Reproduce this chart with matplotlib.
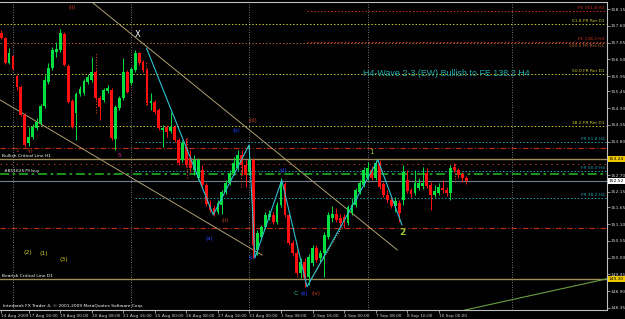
import matplotlib.pyplot as plt

# H4 candles, bar index 0 = 14 Aug 2009 12:00
opens = [157.36, 157.20, 156.38, 156.60, 155.95, 155.59, 154.67, 153.76, 153.95, 154.25,
         154.41, 154.97, 155.76, 156.22, 156.74, 156.81, 157.33, 156.28, 155.13, 154.74,
         155.36, 155.40, 155.76, 155.82, 156.08, 155.23, 155.17, 155.46, 155.50, 153.89,
         154.90, 155.23, 156.08, 155.72, 156.15, 156.71, 156.41, 156.15, 155.07, 155.10,
         154.84, 154.18, 154.28, 154.15, 154.28, 153.85, 153.20, 153.62, 153.26, 152.87,
         152.61, 152.87, 152.38, 151.76, 151.63, 151.49, 151.72, 152.15, 152.44, 152.77,
         152.94, 153.36, 153.03, 152.81, 153.20, 150.25, 150.67, 151.00, 151.33, 151.40,
         151.17, 151.72, 152.41, 151.40, 150.48, 150.15, 149.49, 149.85, 149.36, 149.82,
         150.31, 149.99, 150.15, 150.67, 151.30, 151.43, 151.30, 151.33, 151.13, 151.46,
         151.72, 152.15, 152.38, 152.61, 152.87, 152.61, 153.10, 152.41, 152.05, 151.89,
         151.69, 151.79, 151.89, 152.54, 152.22, 152.12, 152.28, 152.36, 152.77, 152.38,
         152.05, 152.12, 152.28, 152.22, 152.12, 152.97, 152.87, 152.74, 152.61]
highs = [157.46, 157.23, 156.87, 156.64, 155.99, 155.66, 154.74, 154.28, 154.38, 154.58,
         155.04, 155.99, 156.38, 156.90, 157.07, 157.49, 157.40, 156.35, 155.20, 155.43,
         155.63, 155.85, 156.02, 156.58, 156.15, 155.30, 155.56, 155.66, 155.56, 155.00,
         155.30, 156.54, 156.15, 156.25, 156.81, 156.74, 156.48, 156.22, 155.40, 155.17,
         154.90, 154.35, 154.35, 154.77, 154.35, 153.92, 153.85, 153.92, 153.53, 153.36,
         153.26, 153.03, 152.44, 151.89, 151.72, 151.89, 152.22, 152.54, 152.87, 153.30,
         153.53, 153.53, 153.20, 153.69, 153.26, 150.90, 151.07, 151.49, 151.56, 151.49,
         151.82, 152.61, 152.48, 151.46, 150.58, 150.25, 149.99, 149.99, 150.12, 150.41,
         150.41, 150.25, 150.84, 151.49, 151.69, 151.63, 151.43, 151.43, 151.72, 151.95,
         152.28, 152.54, 152.97, 153.13, 153.00, 153.20, 153.20, 152.48, 152.22, 151.99,
         151.99, 151.89, 153.03, 152.87, 152.28, 152.87, 152.61, 152.97, 152.94, 152.48,
         152.38, 152.44, 152.54, 152.31, 153.03, 153.10, 152.94, 152.81, 152.67]
lows = [157.17, 156.35, 156.35, 156.15, 155.50, 154.64, 153.62, 153.66, 153.89, 154.18,
        154.35, 154.90, 155.69, 156.15, 156.58, 156.74, 156.28, 155.07, 154.25, 153.85,
        155.30, 155.33, 155.69, 155.76, 155.17, 154.51, 155.10, 155.40, 153.85, 153.53,
        154.84, 155.17, 155.40, 155.66, 156.08, 156.31, 156.08, 155.00, 154.84, 154.71,
        154.18, 153.62, 153.95, 154.08, 153.79, 153.03, 153.13, 152.97, 152.81, 152.71,
        152.54, 152.28, 151.69, 151.49, 151.36, 151.43, 151.43, 152.08, 152.38, 152.71,
        152.87, 152.71, 152.31, 152.71, 149.99, 150.08, 150.58, 150.94, 151.23, 151.10,
        151.10, 151.66, 151.33, 150.41, 150.05, 149.43, 149.33, 149.04, 149.10, 149.72,
        149.85, 149.85, 149.36, 150.61, 151.17, 151.17, 151.04, 150.97, 151.07, 151.40,
        151.66, 152.08, 152.31, 152.54, 152.54, 152.54, 152.25, 151.99, 151.79, 151.63,
        151.49, 151.17, 151.72, 152.12, 151.99, 152.05, 152.22, 152.25, 152.28, 151.56,
        151.99, 152.05, 152.12, 152.02, 151.89, 152.81, 152.61, 152.48, 152.41]
closes = [157.20, 156.38, 156.71, 156.18, 155.59, 154.67, 153.69, 153.95, 154.28, 154.44,
          154.97, 155.82, 156.22, 156.81, 156.84, 157.36, 156.31, 155.10, 154.28, 155.36,
          155.53, 155.79, 155.92, 156.08, 155.23, 154.94, 155.50, 155.56, 153.92, 154.94,
          155.23, 156.08, 155.43, 156.18, 156.71, 156.38, 156.15, 155.07, 155.13, 154.77,
          154.25, 154.25, 154.12, 154.28, 153.85, 153.10, 153.76, 153.03, 152.94, 153.20,
          153.20, 152.38, 151.76, 151.56, 151.46, 151.79, 152.15, 152.44, 152.77, 153.10,
          153.36, 153.03, 152.71, 153.20, 150.41, 150.81, 151.00, 151.40, 151.43, 151.17,
          151.72, 152.48, 151.40, 150.48, 150.15, 149.49, 149.85, 149.33, 150.02, 150.31,
          149.92, 150.15, 150.74, 151.40, 151.43, 151.23, 151.13, 151.17, 151.66, 151.72,
          152.22, 152.44, 152.87, 152.94, 152.61, 153.10, 152.31, 152.05, 151.89, 151.69,
          151.86, 151.46, 152.81, 152.18, 152.08, 152.44, 152.44, 152.44, 152.36, 152.05,
          152.18, 152.31, 152.22, 152.12, 152.94, 152.87, 152.71, 152.61, 152.52]

date_labels = ['14 Aug 2009', '17 Aug 16:00', '19 Aug 00:00', '20 Aug 08:00', '21 Aug 16:00',
               '25 Aug 00:00', '26 Aug 08:00', '27 Aug 16:00', '31 Aug 00:00', '1 Sep 08:00',
               '2 Sep 16:00', '4 Sep 00:00', '7 Sep 08:00', '8 Sep 16:00', '10 Sep 00:00']
date_pos = [-0.1, 7, 15, 23, 31, 39, 47, 55, 63, 71, 79, 87, 95, 103, 111]

price_ticks = [158.15, 157.60, 157.05, 156.50, 155.95, 155.45, 154.90, 154.35, 153.80,
               152.70, 152.15, 151.65, 151.10, 150.55, 150.00, 149.45, 148.90, 148.35]

week_lines = [3, 33, 63, 93, 129.6]

# fibo levels: price, colour, first bar, label, label side
fibo_prices = [158.08, 157.66, 157.08, 157.03, 156.02, 154.32, 153.79, 152.85, 151.95]
fibo_colors = ['#c83020', '#c8c830', '#c83020', '#b06030', '#c8c830', '#c8c830',
               '#1fa0b0', '#1fa0b0', '#1fa0b0']
fibo_start = [77.6, -1, 77.6, -1, -1, -1, 34, 34, 34]
fibo_names = ['FE 161.8 H4', '61.8 FR Ret D1', 'FE 138.2 H4', '100.0 FR Ret D1',
              '50.0 FR Ret D1', '38.2 FR Ret D1', 'FR 61.8 H4', 'FR 50.0 H4', 'FR 38.2 H4']
fibo_above = [True, True, True, False, True, True, True, True, True]

# swing zigzag
zz_x = [36.9, 53.8, 62.9, 64.4, 71.2, 77.6, 95.6, 101.7]
zz_y = [156.86, 151.40, 153.69, 149.99, 152.54, 149.04, 153.20, 151.07]

# fractal markers (dotted)
frac_x = [24.1, 36.8, 47.2, 60.9, 75.0, 115.2]
frac_top = [156.71, 156.41, 153.95, 153.10, 150.48, 153.10]
frac_bot = [154.74, 155.00, 152.60, 152.31, 149.36, 152.48]

fig = plt.figure(figsize=(6.25, 3.19), dpi=100, facecolor='black')
ax = fig.add_axes([0.0, 9 / 319, 606.5 / 625, 308 / 319], facecolor='black')
ax.set_xlim(-0.3, 153.6)
ax.set_ylim(148.28, 158.38)

for w in week_lines:
    ax.axvline(w, color='#9a9a9a', lw=0.6, ls=(0, (1, 2)), zorder=1)

for p, c, s, name, above in zip(fibo_prices, fibo_colors, fibo_start, fibo_names, fibo_above):
    ax.hlines(p, max(s, -0.3), 153.6, color=c, lw=0.7, ls=(0, (1.5, 2)), zorder=1)
    if above:
        ax.text(153.1, p + 0.03, name, color=c, fontsize=3.2, ha='right', va='bottom')
    else:
        ax.text(153.1, p - 0.03, name, color=c, fontsize=3.2, ha='right', va='top')

ax.axhline(153.59, color='#c03010', lw=0.8, ls=(0, (5, 2, 1, 2)), zorder=1)
ax.axhline(150.97, color='#c03010', lw=0.8, ls=(0, (5, 2, 1, 2)), zorder=1)
ax.axhline(153.07, color='#b03020', lw=0.7, ls=(0, (1.5, 4)), zorder=1)
ax.axhline(153.24, color='#a08a5a', lw=1.0, zorder=1)
ax.axhline(149.30, color='#a08a5a', lw=1.0, zorder=1)
ax.axhline(152.74, color='#20a020', lw=1.3, ls=(0, (5, 2, 1.5, 2)), zorder=1)
ax.axhline(152.52, color='#708090', lw=0.8, zorder=1)

# trend lines
ax.plot([23.0, 100.5], [158.38, 150.25], color='#b0a070', lw=0.7, zorder=2)
ax.plot([-0.3, 66.2], [155.17, 150.08], color='#b0a070', lw=0.7, zorder=2)
ax.plot([117.7, 153.6], [148.28, 149.30], color='#6aa040', lw=0.8, zorder=2)
ax.plot([77.9, 86.8], [149.13, 151.07], color='#c8c070', lw=0.7, ls=(0, (1, 1.5)), zorder=2)

ax.vlines(frac_x, frac_bot, frac_top, color='#d04020', lw=0.8, ls=(0, (1, 1.5)), zorder=2)

# candles
xs = list(range(len(opens)))
up = [c >= o for o, c in zip(opens, closes)]
cols = ['#00e040' if u else '#ff1010' for u in up]
ax.vlines(xs, lows, highs, colors=cols, lw=0.7, zorder=3)
ax.bar(xs, [max(abs(c - o), 0.02) for o, c in zip(opens, closes)],
       bottom=[min(o, c) for o, c in zip(opens, closes)],
       width=0.72, color=cols, lw=0, zorder=4)

ax.plot(zz_x, zz_y, color='#30c0d0', lw=0.8, zorder=5)

# wave labels
ax.text(34.7, 157.33, 'X', color='white', fontsize=6, ha='center', va='center')
ax.text(18.0, 158.21, '(ii)', color='#c04020', fontsize=4, ha='center', va='center')
ax.text(4.0, 153.50, '1', color='#c04020', fontsize=4, ha='center', va='center')
ax.text(7.4, 153.50, '(i)', color='#c04020', fontsize=4, ha='center', va='center')
ax.text(29.9, 153.36, '5', color='#e020a0', fontsize=4.5, ha='center', va='center')
ax.text(59.6, 154.18, '(b)', color='#2040ff', fontsize=4, ha='center', va='center')
ax.text(63.9, 154.51, '(iii)', color='#c04020', fontsize=4, ha='center', va='center')
ax.text(93.9, 153.46, '1', color='#9acd32', fontsize=5, ha='center', va='center')
ax.text(101.7, 150.81, '2', color='#9acd32', fontsize=6.5, ha='center', va='center',
        fontweight='bold')
ax.text(52.8, 150.64, '(a)', color='#2040ff', fontsize=4, ha='center', va='center')
ax.text(56.8, 151.23, '(ii)', color='#c04020', fontsize=4, ha='center', va='center')
ax.text(63.7, 149.99, '(c)', color='#2040ff', fontsize=4, ha='center', va='center')
ax.text(71.5, 152.87, '(d)', color='#2040ff', fontsize=4, ha='center', va='center')
ax.text(74.8, 148.81, 'C', color='#20c080', fontsize=4.5, ha='center', va='center')
ax.text(76.8, 148.81, '(e)', color='#2040ff', fontsize=4, ha='center', va='center')
ax.text(80.0, 148.81, '(iv)', color='#c04020', fontsize=4, ha='center', va='center')
ax.text(6.8, 150.18, '(2)', color='#c8c820', fontsize=4.5, ha='center', va='center')
ax.text(10.9, 150.12, '(1)', color='#c8c820', fontsize=4.5, ha='center', va='center')
ax.text(16.0, 149.95, '(3)', color='#c8c820', fontsize=4.5, ha='center', va='center')

ax.text(91.8, 156.05, 'H4-Wave 2-3 (EW) Bullish to FE 138.2 H4', color='#20a8a8',
        fontsize=6.4, family='Liberation Sans', ha='left', va='center')

ax.text(0.2, 153.27, 'Bullish Critical Line H1', color='white', fontsize=3.2, va='bottom')
ax.text(0.8, 152.77, '#85162579 buy', color='white', fontsize=3.2, va='bottom')
ax.text(0.2, 149.33, 'Bearish Critical Line D1', color='white', fontsize=3.2, va='bottom')
ax.text(0.5, 148.41, 'Interbank FX Trader 4, \u00a9 2001-2009 MetaQuotes Software Corp.',
        color='white', fontsize=3.2, va='center')

# axes styling
for s in ax.spines.values():
    s.set_color('#c0c0c0')
    s.set_linewidth(0.8)
ax.spines['left'].set_visible(False)

ax.yaxis.tick_right()
ax.set_yticks(price_ticks)
ax.set_yticklabels(['%.2f' % p for p in price_ticks])
ax.tick_params(axis='y', colors='#d0d0d0', labelsize=3.2, length=2, width=0.5, pad=1)

ax.set_xticks(date_pos)
ax.set_xticklabels(date_labels, ha='left')
ax.tick_params(axis='x', colors='#d0d0d0', labelsize=3.1, length=2, width=0.5, pad=1)

# price boxes on the scale
yt = ax.get_yaxis_transform()
for p, txt, fc in [(153.24, '153.24', '#f0c800'), (152.52, '152.52', '#ffffff'),
                   (149.30, '149.30', '#f0c800')]:
    ax.text(1.004, p, txt, transform=yt, fontsize=3.2, color='black', va='center',
            ha='left', clip_on=False,
            bbox=dict(boxstyle='square,pad=0.25', fc=fc, ec='none'))

fig.savefig('out.png', dpi=100, facecolor='black')
